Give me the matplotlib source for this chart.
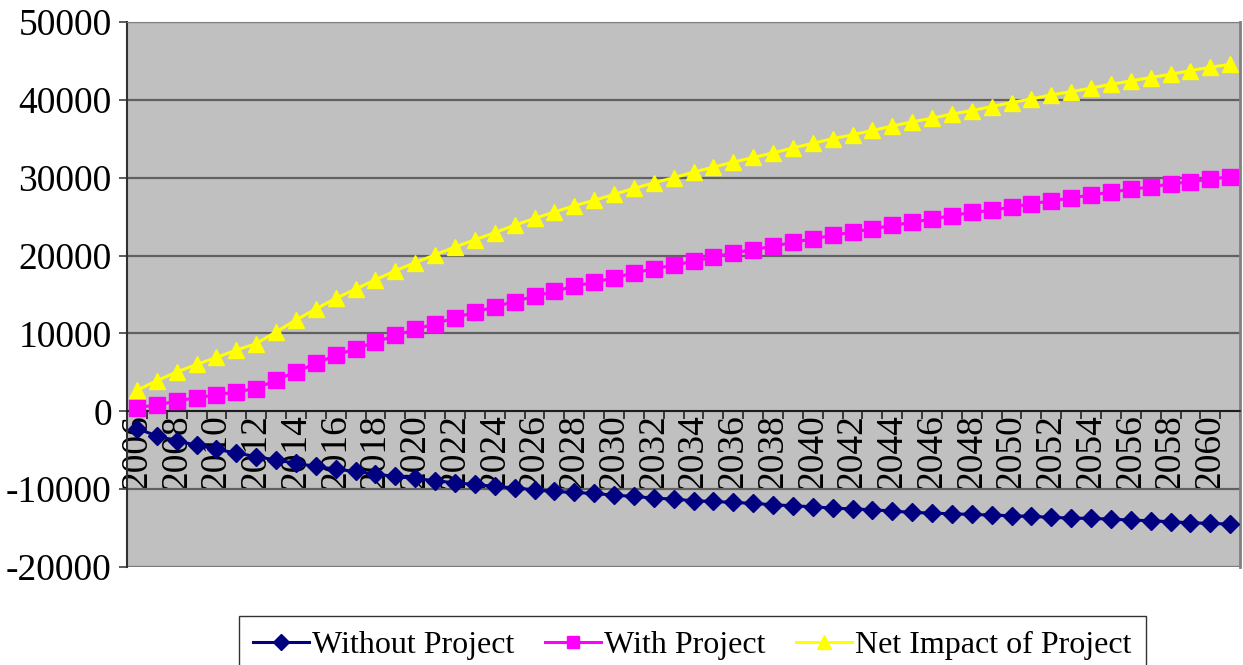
import matplotlib
matplotlib.use("Agg")
import matplotlib.pyplot as plt
import numpy as np

years = list(range(2006, 2062))

without_project = [
    -2220, -3160, -3800, -4360, -4870, -5380, -5810, -6280, -6670, -7090,
    -7440, -7730, -8080, -8370, -8630, -8930, -9190, -9400, -9650, -9850,
    -10090, -10300, -10430, -10560, -10770, -10940, -11150, -11280, -11500, -11580,
    -11710, -11830, -12010, -12140, -12270, -12440, -12540, -12650, -12820, -12990,
    -13080, -13170, -13250, -13330, -13420, -13500, -13630, -13720, -13760, -13850,
    -13980, -14060, -14190, -14320, -14400, -14490,
]

with_project = [
    470, 810, 1320, 1750, 2090, 2520, 2910, 4010, 5090, 6150,
    7180, 8040, 8890, 9740, 10510, 11240, 12010, 12730, 13420, 14100,
    14780, 15420, 16060, 16580, 17140, 17780, 18290, 18760, 19270, 19830,
    20340, 20770, 21190, 21700, 22140, 22600, 23010, 23440, 23870, 24270,
    24700, 25130, 25550, 25800, 26250, 26650, 27030, 27400, 27780, 28160,
    28500, 28830, 29200, 29480, 29820, 30120,
]

net_impact = [
    2700, 3930, 5040, 6020, 6920, 7860, 8700, 10200, 11730, 13150,
    14500, 15700, 16900, 18050, 19100, 20100, 21100, 22030, 22950, 23900,
    24780, 25600, 26400, 27100, 27860, 28630, 29330, 30000, 30720, 31360,
    32000, 32600, 33180, 33820, 34420, 35010, 35520, 36070, 36640, 37170,
    37650, 38170, 38630, 39140, 39650, 40130, 40640, 41060, 41500, 42010,
    42430, 42860, 43290, 43760, 44190, 44570,
]

plt.rcParams['font.family'] = ['Liberation Serif', 'DejaVu Serif']
plt.rcParams['axes.unicode_minus'] = False

fig = plt.figure(figsize=(12.43, 6.65), dpi=100)
ax = fig.add_axes([0.1022, 0.1474, 0.8955, 0.8195])
ax.set_facecolor('#C0C0C0')

x = np.arange(len(years))
ax.plot(x, without_project, color='#000080', marker='D', markersize=9,
        linewidth=2.2, label='Without Project', zorder=3)
ax.plot(x, with_project, color='#FF00FF', marker='s', markersize=11,
        linewidth=2.2, label='With Project', zorder=3)
ax.plot(x, net_impact, color='#FFFF00', marker='^', markersize=12,
        linewidth=2.2, label='Net Impact of Project', zorder=3)

ax.set_xlim(-0.5, len(years) - 0.5)
ax.set_ylim(-20000, 50000)
ax.set_yticks(np.arange(-20000, 50001, 10000))
ax.yaxis.grid(True, color='#606060', linewidth=1.6)
ax.set_axisbelow(True)
ax.tick_params(axis='y', direction='out', length=6, width=1.2,
               labelsize=27, pad=5, color='#404040')

# category boundaries get the tick marks, labels sit on every other category
ax.set_xticks(np.arange(-0.5, len(years), 1))
ax.set_xticklabels([])
ax.set_xticks(x[::2], minor=True)
ax.set_xticklabels([str(y) for y in years[::2]], minor=True)
ax.tick_params(axis='x', which='major', direction='out', length=6,
               width=1.2, color='#202020')
ax.tick_params(axis='x', which='minor', length=0, pad=2,
               labelsize=27, labelrotation=90)

ax.spines['bottom'].set_position(('data', 0))
ax.spines['bottom'].set_color('#101010')
ax.spines['bottom'].set_linewidth(1.2)
ax.spines['left'].set_color('#303030')
ax.spines['left'].set_linewidth(1.5)
ax.spines['top'].set_color('#808080')
ax.spines['right'].set_color('#808080')
ax.spines['right'].set_linewidth(2)
ax.axhline(-20000, color='#808080', linewidth=2, zorder=1)

leg = fig.legend(loc='upper center', bbox_to_anchor=(0.557, 0.073), ncol=3,
                 fontsize=23, frameon=True, fancybox=False, edgecolor='black',
                 handlelength=1.75, handletextpad=0.1, columnspacing=0.95,
                 borderpad=0.45, borderaxespad=0, markerscale=0.85)
leg.get_frame().set_linewidth(1.0)

fig.savefig('out.png', dpi=100)
